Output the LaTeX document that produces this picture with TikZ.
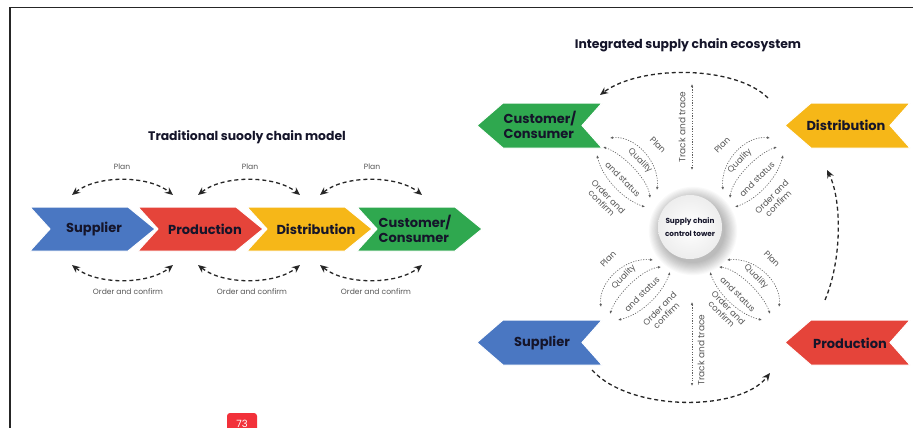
\documentclass[tikz,border=0pt]{standalone}
\usepackage{fontspec}
\setmainfont{Poppins}
\usetikzlibrary{arrows.meta}
\definecolor{chblue}{HTML}{4A77C2}
\definecolor{chred}{HTML}{E5443A}
\definecolor{chyellow}{HTML}{F6B718}
\definecolor{chgreen}{HTML}{2FA84F}
\definecolor{txtdark}{HTML}{15152A}
\definecolor{lblgray}{HTML}{555555}
\definecolor{badgered}{HTML}{F2313A}
\newcommand\mychevR[2]{\fill[#2,draw=white,line width=1pt] (#1,207) -- ++(98,0) -- ++(27,22) -- ++(-27,22) -- ++(-98,0) -- ++(20,-22) -- cycle;}
\newcommand\mychevL[3]{\fill[#3,draw=white,line width=1pt] (#1,#2+22.5) -- ++(26,-22.5) -- ++(99,0) -- ++(-20,22.5) -- ++(20,22.5) -- ++(-99,0) -- cycle;}
\newcommand\mypetals[4]{%
\begin{scope}[shift={(690,227)},#2]
 \coordinate (#1a1) at (80,-89); \coordinate (#1b1) at (33,-37);
 \coordinate (#1a2) at (87,-80); \coordinate (#1b2) at (40,-29);
 \coordinate (#1a3) at (93,-72); \coordinate (#1b3) at (45,-20);
 \draw[petal] (#1a1) .. controls +(-25,-3) and +(-3,-28) .. (#1b1);
 \draw[petal] (#1a2) .. controls +(-19,6) and +(2,-19) .. (#1b2);
 \draw[petal] (#1a3) .. controls +(-5,22) and +(23,-8) .. (#1b3);
 \node[plbl,rotate=#3] (#1plan) at (32,-82) {Plan};
 \node[plbl,rotate=#3] (#1qual) at (50,-66) {Quality};
 \node[plbl,rotate=#3] (#1stat) at (67,-48) {and status};
 \node[plbl,rotate=#3,align=center] (#1ord) at (#4) {Order and\\confirm};
\end{scope}}
\begin{document}
\begin{tikzpicture}[x=1pt,y=-1pt,
  chevtext/.style={font=\bfseries\fontsize{13}{14.5}\selectfont,text=txtdark,inner sep=0pt},
  titletext/.style={font=\bfseries\fontsize{12.4}{13}\selectfont,text=txtdark,inner sep=0pt},
  smalllbl/.style={font=\fontsize{7.6}{8}\selectfont,text=lblgray,inner sep=0pt},
  plbl/.style={font=\fontsize{8.5}{9.5}\selectfont,text=lblgray,inner sep=0pt},
  bigdash/.style={draw=black!85,line width=1.3pt,dash pattern=on 4pt off 3pt},
  tipS/.style={arrows={-Stealth[length=8pt,width=7pt]}},
  tipSS/.style={arrows={Stealth[length=8pt,width=7pt]-Stealth[length=8pt,width=7pt]}},
  petal/.style={draw=gray!75!black,line width=0.6pt,dash pattern=on 1.2pt off 1.4pt,arrows={Latex[length=3pt,width=2.6pt]-Latex[length=3pt,width=2.6pt]}}]
\clip (0,0) rectangle (913,428);
\fill[white] (0,0) rectangle (913,428);
% frame
\draw[gray!30!black,line width=1.5pt] (10,430) -- (10,7.5) -- (915,7.5);
% ---------- traditional model ----------
\node[titletext] (t1) at (247,137) {Traditional suooly chain model};
\mychevR{30}{chblue}
\mychevR{138}{chred}
\mychevR{247}{chyellow}
\mychevR{357}{chgreen}
\node[chevtext] (sup1) at (94,229) {Supplier};
\node[chevtext] (pro1) at (205,229) {Production};
\node[chevtext] (dis1) at (316,229) {Distribution};
\node[chevtext,align=left] (cus1) at (415,229) {Customer/\\Consumer};
\foreach \xa/\xb/\xp/\xo [count=\i] in {72/173/122/128, 198/300/250/252, 320/422/372/376}{
  \coordinate (pa\i) at (\xa,195); \coordinate (pb\i) at (\xb,195);
  \coordinate (oa\i) at (\xa,265); \coordinate (ob\i) at (\xb,265);
  \draw[bigdash,tipSS] (pa\i) .. controls +(25,-20) and +(-25,-20) .. (pb\i);
  \draw[bigdash,tipSS] (oa\i) .. controls +(25,20) and +(-25,20) .. (ob\i);
  \node[smalllbl] (plan\i) at (\xp,167) {Plan};
  \node[smalllbl] (oc\i) at (\xo,292) {Order and confirm};
}
% ---------- integrated ecosystem ----------
\node[titletext] (t2) at (688,45) {Integrated supply chain ecosystem};
\mychevL{477}{103}{chgreen}
\mychevL{785}{103}{chyellow}
\mychevL{477}{320}{chblue}
\mychevL{785}{320}{chred}
\node[chevtext,align=left] (cus2) at (540,125) {Customer/\\Consumer};
\node[chevtext] (dis2) at (846,125) {Distribution};
\node[chevtext] (sup2) at (542,343) {Supplier};
\node[chevtext] (pro2) at (850,343) {Production};
% outer loop
\coordinate (o1) at (768,98); \coordinate (o2) at (600,95);
\coordinate (o3) at (592,370); \coordinate (o4) at (770,373);
\coordinate (o5) at (825,300); \coordinate (o6) at (827,170);
\draw[bigdash,tipS] (o1) .. controls (735,65) and (640,65) .. (o2);
\draw[bigdash,tipS] (o3) .. controls (630,412) and (740,412) .. (o4);
\draw[bigdash,tipS] (o5) .. controls (842,260) and (842,200) .. (o6);
% tower shadow and tower
\foreach \i in {1,...,12}{\fill[black,opacity=0.022] (693,231) circle ({31+\i*1.1});}
\node[circle,minimum size=64pt,inner sep=0pt,shade,inner color=white,outer color=gray!14,align=center,
  font=\bfseries\fontsize{7.3}{13}\selectfont,text=txtdark] (tower) at (690,227) {Supply chain\\control tower};
% track and trace
\coordinate (tt1) at (692,84); \coordinate (tt2) at (692,170);
\coordinate (tt3) at (692,302); \coordinate (tt4) at (692,386);
\draw[petal] (tt1) -- (tt2);
\draw[petal] (tt3) -- (tt4);
\node[plbl,font=\fontsize{9}{10}\selectfont,rotate=90] (trk1) at (682,127) {Track and trace};
\node[plbl,font=\fontsize{9}{10}\selectfont,rotate=90] (trk2) at (701,350) {Track and trace};
% petals
\mypetals{UR}{}{45}{85,-27}
\mypetals{UL}{xscale=-1}{-45}{85,-27}
\mypetals{LR}{rotate=-90}{-45}{84,-35}
\mypetals{LL}{xscale=-1,rotate=-90}{45}{85,-27}
% badge
\fill[badgered,rounded corners=3pt] (227,413) rectangle (257,445);
\node[text=white,font=\fontsize{10}{11}\selectfont,inner sep=0pt] (badge) at (242,424) {73};
\end{tikzpicture}
\end{document}
